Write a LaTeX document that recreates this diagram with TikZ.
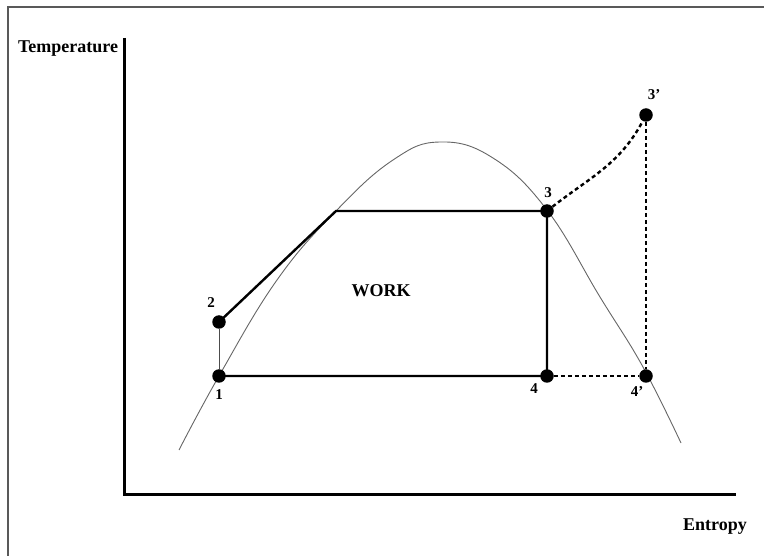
\documentclass[tikz,border=0pt]{standalone}
\usepackage{fontspec}
\setmainfont{Liberation Serif}
\usepackage{tikz}
\usetikzlibrary{calc}

\begin{document}
\begin{tikzpicture}[
  x=1pt, y=-1pt,
  statept/.style={circle, fill=black, inner sep=0pt, minimum size=13.5pt},
  axisline/.style={line width=3pt},
  cycleline/.style={line width=2.4pt},
  domeline/.style={gray!80!black, line width=0.9pt},
  dotline/.style={line width=2.4pt, dash pattern=on 4pt off 3pt},
  numlbl/.style={font=\fontsize{15}{17}\selectfont\bfseries, inner sep=0pt},
  wordlbl/.style={font=\fontsize{18}{21}\selectfont\bfseries, inner sep=0pt}
]
\useasboundingbox (0,0) rectangle (764,556);
% frame
\draw[gray!70!black, line width=2pt] (8,570) -- (8,7) -- (780,7);

% axes
\coordinate (ytop) at (124,38);
\coordinate (orig) at (124,494);
\coordinate (xend) at (736,494);
\draw[axisline] (ytop) -- (orig) -- (xend);
\node[wordlbl] (tlabel) at (68,49) {Temperature};
\node[wordlbl] (slabel) at (715,527) {Entropy};

% saturation dome
\draw[domeline] plot[smooth, tension=0.7] coordinates {
  (179,450) (219,376) (277,280) (336,211) (393,160)
  (440,142) (493,158) (547,210) (600,297) (643,367) (681,443)};

% states
\node[statept] (p1) at (219,376) {};
\node[statept] (p2) at (219,322) {};
\node[statept] (p3) at (547,211) {};
\node[statept] (p4) at (547,376) {};
\node[statept] (p3s) at (646,115) {};
\node[statept] (p4s) at (646,376) {};
\coordinate (corner) at (336,211);

% cycle
\draw[gray!60!black, line width=1pt] (p1) -- (p2);
\draw[cycleline] (p2.center) -- (corner) -- (p3.center) -- (p4.center) -- (p1.center);
\draw[dotline] (p3) to[out=38, in=242] (p3s);
\draw[dotline] (p3s) -- (p4s);
\draw[dotline] (p4) -- (p4s);

% labels
\node[numlbl] (l1) at (219,395) {1};
\node[numlbl] (l2) at (211,303) {2};
\node[numlbl] (l3) at (548,193) {3};
\node[numlbl] (l4) at (534,389) {4};
\node[numlbl] (l3s) at (654,95) {3'};
\node[numlbl] (l4s) at (637,392) {4'};
\node[wordlbl] (work) at (381,291) {WORK};
\end{tikzpicture}
\end{document}
